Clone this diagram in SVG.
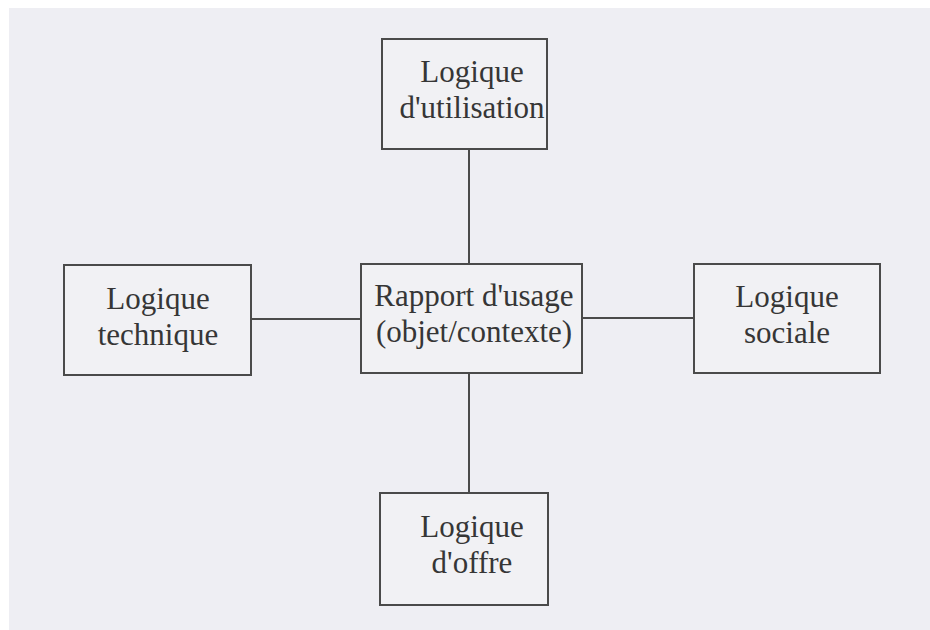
<svg xmlns="http://www.w3.org/2000/svg" width="930" height="630" viewBox="0 0 930 630">
<style>
.box{fill:#f1f1f4;stroke:#4a4a4a;stroke-width:2}
.lbl{font-family:"Liberation Serif","Times New Roman",serif;font-size:31px;fill:#363636;text-anchor:middle}
.conn{stroke:#4a4a4a;stroke-width:2;fill:none}
</style>
<rect x="0" y="0" width="930" height="630" fill="#ffffff"/>
<rect x="9" y="8" width="921" height="622" fill="#eeeef3"/>
<g id="connectors">
<line class="conn" x1="469" y1="149" x2="469" y2="264"/>
<line class="conn" x1="469" y1="373" x2="469" y2="493"/>
<line class="conn" x1="251" y1="319" x2="361" y2="319"/>
<line class="conn" x1="582" y1="318" x2="694" y2="318"/>
</g>
<g id="utilisation">
<rect class="box" x="382" y="39" width="165" height="110"/>
<text class="lbl" x="472" y="82">Logique</text>
<text class="lbl" x="472" y="118">d'utilisation</text>
</g>
<g id="technique">
<rect class="box" x="64" y="265" width="187" height="110"/>
<text class="lbl" x="158" y="309">Logique</text>
<text class="lbl" x="158" y="345">technique</text>
</g>
<g id="rapport">
<rect class="box" x="361" y="264" width="221" height="109"/>
<text class="lbl" x="474" y="306">Rapport d'usage</text>
<text class="lbl" x="474" y="342">(objet/contexte)</text>
</g>
<g id="sociale">
<rect class="box" x="694" y="264" width="186" height="109"/>
<text class="lbl" x="787" y="307">Logique</text>
<text class="lbl" x="787" y="343">sociale</text>
</g>
<g id="offre">
<rect class="box" x="380" y="493" width="168" height="112"/>
<text class="lbl" x="472" y="537">Logique</text>
<text class="lbl" x="472" y="573">d'offre</text>
</g>
</svg>
